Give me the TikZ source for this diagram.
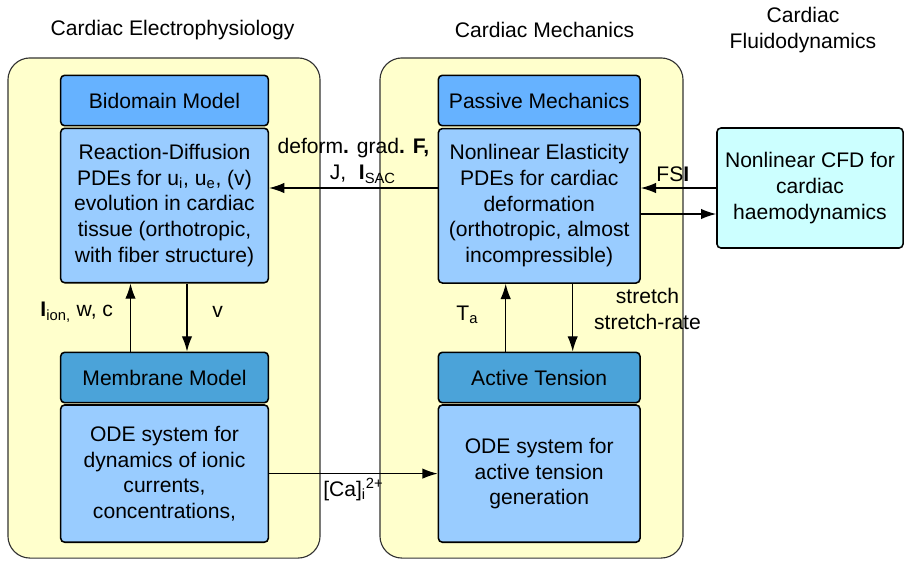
\documentclass[tikz,border=0pt]{standalone}
\usepackage{fontspec}
\setmainfont{Liberation Sans}
\usepackage{tikz}
\usetikzlibrary{arrows.meta,calc}
\definecolor{panelyellow}{RGB}{255,255,204}
\definecolor{headblue}{RGB}{102,178,255}
\definecolor{headdark}{RGB}{75,163,217}
\definecolor{bodyblue}{RGB}{153,204,255}
\definecolor{fluidcyan}{RGB}{204,255,255}
\newcommand{\mainsize}{\fontsize{15}{18.3}\selectfont}

\begin{document}
\begin{tikzpicture}[x=0.025cm, y=-0.025cm, every node/.style={font=\mainsize},
    panel/.style={draw=black!80, fill=panelyellow, rounded corners=0.55cm, line width=0.8pt, inner sep=0pt},
    headbox/.style={draw, line width=1.1pt, rounded corners=0.1cm, inner sep=0pt, minimum height=1.26cm},
    bodybox/.style={draw, line width=1.1pt, fill=bodyblue, rounded corners=0.1cm, inner sep=0pt, align=center},
    arr/.style={-{Latex[length=3.8mm,width=2.6mm]}, line width=0.9pt},
    lbl/.style={align=center, inner sep=2pt}]
  \useasboundingbox (0,0) rectangle (905,560);
  % the two coloured panels
  \node[panel, minimum width=7.8cm, minimum height=12.5cm] (ep) at (164,308) {};
  \node[panel, minimum width=7.575cm, minimum height=12.5cm] (mech) at (531.5,308) {};
  \node (eptitle) at (172.5,30) {Cardiac Electrophysiology};
  \node (mechtitle) at (544.5,30) {Cardiac Mechanics};
  \node[align=center] (fluidtitle) at (803,30) {Cardiac\\Fluidodynamics};
  % electrophysiology
  \node[headbox, fill=headblue, minimum width=5.19cm] (bidhead) at (164.5,100.5) {Bidomain Model};
  \node[bodybox, minimum width=5.19cm, minimum height=3.86cm] (bidbody) at (164.5,205.5)
    {Reaction-Diffusion\\PDEs for u\textsubscript{i}, u\textsubscript{e}, (v)\\evolution in cardiac\\tissue (orthotropic,\\with fiber structure)};
  \node[headbox, fill=headdark, minimum width=5.19cm] (memhead) at (164.5,377.5) {Membrane Model};
  \node[bodybox, minimum width=5.19cm, minimum height=3.43cm] (membody) at (164.5,473.6)
    {ODE system for\\dynamics of ionic\\currents,\\concentrations,};
  % mechanics
  \node[headbox, fill=headblue, minimum width=5.04cm] (pashead) at (539.2,100.5) {Passive Mechanics};
  \node[bodybox, minimum width=5.04cm, minimum height=3.86cm] (pasbody) at (539.2,205.8)
    {Nonlinear Elasticity\\PDEs for cardiac\\deformation\\(orthotropic, almost\\incompressible)};
  \node[headbox, fill=headdark, minimum width=5.04cm] (acthead) at (539.2,377.5) {Active Tension};
  \node[bodybox, minimum width=5.04cm, minimum height=3.43cm] (actbody) at (539.2,473.6)
    {ODE system for\\active tension\\generation};
  % fluid
  \node[bodybox, fill=fluidcyan, minimum width=4.65cm, minimum height=3.0cm] (cfd) at (810,188)
    {Nonlinear CFD for\\cardiac\\haemodynamics};
  % couplings
  \coordinate (ionfoot) at ($(memhead.north)+(-34,0)$);
  \coordinate (vtop) at ($(bidbody.south)+(22.5,0)$);
  \coordinate (tafoot) at ($(acthead.north)+(-33.5,0)$);
  \coordinate (sttop) at ($(pasbody.south)+(33.5,0)$);
  \draw[arr] (cfd.west -| pasbody.west) -- (cfd.west -| bidbody.east)
    node[midway, above, lbl, yshift=1pt] (deflbl) {deform\textbf{.} grad\textbf{. F,}\\\hspace*{0.9em}J,\hspace{0.6em}\textbf{I}\textsubscript{SAC}};
  \draw[arr] (cfd.west) -- (cfd.west -| pasbody.east)
    node[midway, above, lbl, xshift=-4pt, yshift=2pt] (fsilbl) {FS\textbf{I}};
  \draw[arr] ($(cfd.west -| pasbody.east)+(0,26)$) -- ($(cfd.west)+(0,26)$);
  \draw[arr] (ionfoot) -- (ionfoot |- bidbody.south)
    node[midway, left=0.35cm, lbl, yshift=4pt] (ionlbl) {\textbf{I}\textsubscript{ion,} w, c};
  \draw[arr] (vtop) -- (vtop |- memhead.north)
    node[midway, right=0.55cm, lbl, yshift=4pt] (vlbl) {v};
  \draw[arr] (tafoot) -- (tafoot |- pasbody.south)
    node[midway, left=0.6cm, lbl, yshift=2pt] (talbl) {T\textsubscript{a}};
  \draw[arr] (sttop) -- (sttop |- acthead.north)
    node[midway, right=0.45cm, lbl, yshift=6pt] (stlbl) {stretch\\stretch-rate};
  \draw[arr] (membody.east) -- (actbody.west)
    node[midway, below, lbl, yshift=-1pt] (calbl) {[Ca]\textsubscript{i}\textsuperscript{2+}};
\end{tikzpicture}
\end{document}
